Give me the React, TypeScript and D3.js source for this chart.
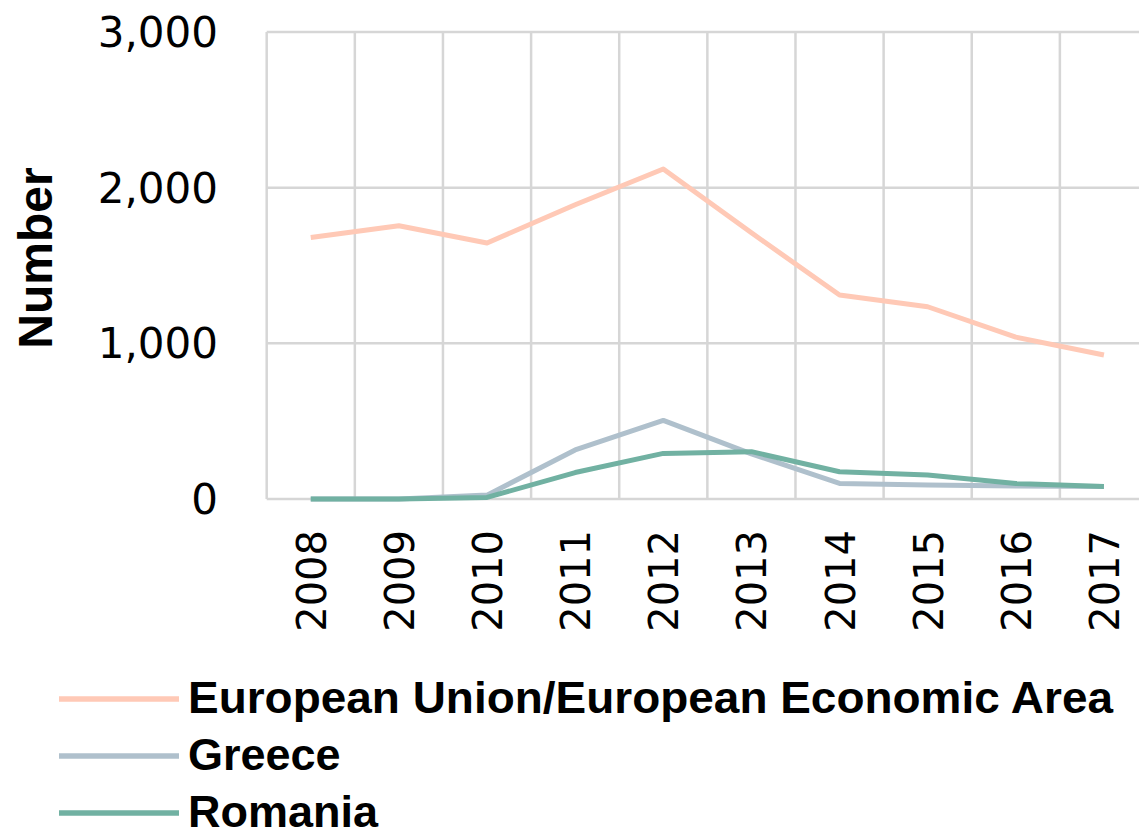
import * as d3 from "d3";
import React, { useRef, useEffect } from "react";

const years = ["2008", "2009", "2010", "2011", "2012", "2013", "2014", "2015", "2016", "2017"];
const euValues = [1680, 1755, 1645, 1890, 2120, 1710, 1310, 1235, 1040, 925];
const greeceValues = [0, 0, 25, 315, 505, 290, 100, 90, 83, 80];
const romaniaValues = [0, 0, 10, 170, 293, 304, 175, 154, 100, 80];
const yTicks = [0, 1000, 2000, 3000];
const seriesNames = ["European Union/European Economic Area", "Greece", "Romania"];
const seriesColors = ["#FFC9B6", "#AFC0CC", "#71B1A2"];

const WIDTH = 1139;
const HEIGHT = 833;

export default function App() {
    const ref = useRef<SVGSVGElement>(null);

    useEffect(() => {
        const svg = d3.select(ref.current);
        svg.selectAll("*").remove();

        const left = 266.7;
        const right = 1148;
        const top = 32;
        const bottom = 499;

        const x = d3.scaleBand().domain(years).range([left, right]);
        const y = d3.scaleLinear().domain([0, 3000]).range([bottom, top]);
        const cx = (d: string) => (x(d) as number) + x.bandwidth() / 2;

        const grid = svg.append("g").attr("stroke", "#D6D6D6").attr("stroke-width", 2.5);

        // horizontal grid
        grid.selectAll(".hgrid")
            .data(yTicks)
            .enter().append("line")
            .attr("x1", left).attr("x2", right)
            .attr("y1", d => y(d)).attr("y2", d => y(d));

        // vertical grid at category boundaries
        grid.selectAll(".vgrid")
            .data(years)
            .enter().append("line")
            .attr("x1", d => x(d) as number).attr("x2", d => x(d) as number)
            .attr("y1", top).attr("y2", bottom);

        // y tick labels
        svg.append("g")
            .selectAll("text")
            .data(yTicks)
            .enter().append("text")
            .attr("x", 218)
            .attr("y", d => y(d))
            .attr("dy", "0.36em")
            .attr("text-anchor", "end")
            .attr("font-family", "DejaVu Sans, sans-serif")
            .attr("font-size", 42)
            .attr("fill", "#000")
            .text(d => d3.format(",")(d));

        // x tick labels, rotated
        svg.append("g")
            .selectAll("text")
            .data(years)
            .enter().append("text")
            .attr("transform", d => `translate(${cx(d) + 15},${530}) rotate(-90)`)
            .attr("text-anchor", "end")
            .attr("font-family", "DejaVu Sans, sans-serif")
            .attr("font-size", 40)
            .attr("fill", "#000")
            .text(d => d);

        // y axis title
        svg.append("text")
            .attr("transform", `translate(52,258) rotate(-90)`)
            .attr("text-anchor", "middle")
            .attr("font-family", "Liberation Sans, Arial, sans-serif")
            .attr("font-weight", "bold")
            .attr("font-size", 48)
            .attr("fill", "#000")
            .text("Number");

        const allSeries = [euValues, greeceValues, romaniaValues];
        const line = d3.line<number>()
            .x((_, i) => cx(years[i]))
            .y(d => y(d));

        svg.append("g")
            .selectAll("path")
            .data(allSeries)
            .enter().append("path")
            .attr("d", d => line(d))
            .attr("fill", "none")
            .attr("stroke", (_, i) => seriesColors[i])
            .attr("stroke-width", 5)
            .attr("stroke-linejoin", "round");

        // legend
        const legend = svg.append("g")
            .selectAll(".legendLine")
            .data(seriesNames)
            .enter().append("g")
            .attr("class", "legendLine")
            .attr("transform", (_, i) => `translate(0,${699 + i * 57})`);

        legend.append("line")
            .attr("x1", 59).attr("x2", 179)
            .attr("y1", 0).attr("y2", 0)
            .attr("stroke", (_, i) => seriesColors[i])
            .attr("stroke-width", 5.5);

        legend.append("text")
            .attr("x", 188)
            .attr("y", 14)
            .attr("font-family", "Liberation Sans, Arial, sans-serif")
            .attr("font-weight", "bold")
            .attr("font-size", 45)
            .attr("textLength", (_, i) => (i === 0 ? 925 : null))
            .attr("lengthAdjust", "spacingAndGlyphs")
            .attr("fill", "#000")
            .text(d => d);
    }, []);

    return (
        <svg
            ref={ref}
            width={WIDTH}
            height={HEIGHT}
            style={{ position: "absolute", left: 0, top: 0, background: "#fff" }}
        />
    );
}
